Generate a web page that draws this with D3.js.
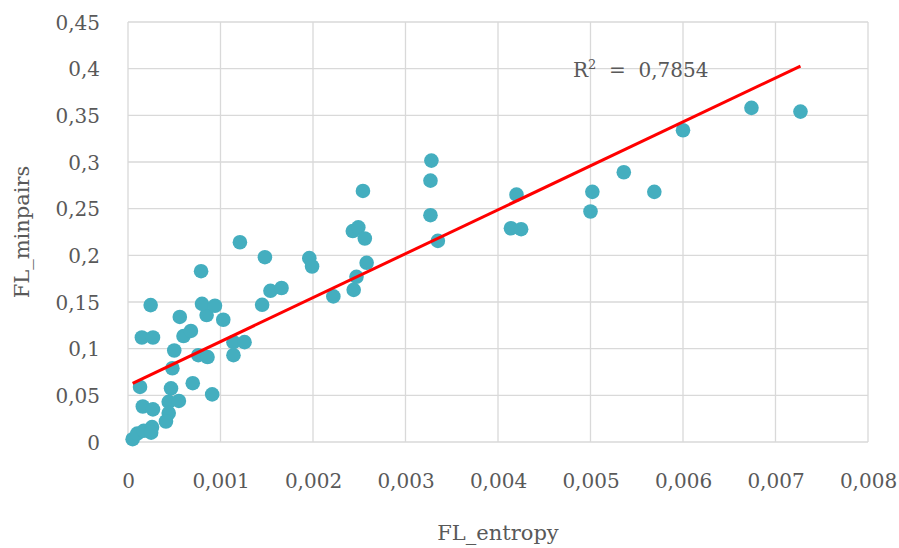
<!DOCTYPE html>
<html>
<head>
<meta charset="utf-8">
<script src="https://cdn.jsdelivr.net/npm/d3@7"></script>
<style>
  body { margin: 0; background: #fff; }
  text { font-family: "DejaVu Serif", "Noto Serif", serif; fill: #595959; }
</style>
</head>
<body>
<svg id="chart" width="899" height="548"></svg>
<script>
// FL_entropy (x) and FL_minpairs (y)
var entropy = [
  0.00005, 0.00010, 0.00017, 0.00026, 0.00025,
  0.00013, 0.00070, 0.000465, 0.00091, 0.00016,
  0.00027, 0.00044, 0.00055, 0.00044, 0.00041,
  0.00048, 0.00050, 0.00076, 0.00086, 0.00114,
  0.00114, 0.00126, 0.00015, 0.00027, 0.00060,
  0.00068, 0.00056, 0.00085, 0.00103, 0.000245,
  0.00080, 0.00094, 0.00145, 0.00079, 0.00154,
  0.00166, 0.00148, 0.00121, 0.00196, 0.00199,
  0.00222, 0.00244, 0.00247, 0.00258, 0.00243,
  0.00249, 0.00256, 0.00254, 0.00328, 0.00327,
  0.00327, 0.00335, 0.00420, 0.00414, 0.00425,
  0.00502, 0.00500, 0.00536, 0.00569, 0.00600,
  0.00674, 0.00727
]
var minpairs = [
  0.003, 0.009, 0.012, 0.016, 0.010,
  0.059, 0.063, 0.0575, 0.051, 0.038,
  0.035, 0.043, 0.044, 0.031, 0.022,
  0.079, 0.098, 0.093, 0.091, 0.093,
  0.107, 0.107, 0.112, 0.112, 0.1135,
  0.119, 0.134, 0.136, 0.131, 0.1467,
  0.148, 0.146, 0.147, 0.183, 0.162,
  0.165, 0.198, 0.214, 0.197, 0.188,
  0.156, 0.163, 0.177, 0.192, 0.226,
  0.230, 0.218, 0.269, 0.3015, 0.280,
  0.243, 0.2155, 0.265, 0.229, 0.228,
  0.268, 0.247, 0.289, 0.268, 0.334,
  0.358, 0.354
]
var xTicks = [0, 0.001, 0.002, 0.003, 0.004, 0.005, 0.006, 0.007, 0.008]
var yTicks = [0, 0.05, 0.1, 0.15, 0.2, 0.25, 0.3, 0.35, 0.4, 0.45]
// linear trend line as shown in the picture
var trendSlope = 47.08
var trendIntercept = 0.0605
var rSquared = "0,7854"

var margin = {top: 22, right: 31, bottom: 106, left: 128}
var width = 899 - margin.left - margin.right
var height = 548 - margin.top - margin.bottom

var svg = d3.select("#chart")
var g = svg.append("g")
    .attr("transform", "translate(" + margin.left + "," + margin.top + ")")

var x = d3.scaleLinear().domain([0, 0.008]).range([0, width])
var y = d3.scaleLinear().domain([0, 0.45]).range([height, 0])

var comma = function(d) {
    return String(+d.toFixed(4)).replace(".", ",")
}

// gridlines
g.selectAll(".hgrid").data(yTicks).enter()
    .append("line")
    .attr("class", "hgrid")
    .attr("x1", 0).attr("x2", width)
    .attr("y1", function(d) { return y(d) })
    .attr("y2", function(d) { return y(d) })
    .attr("stroke", "#d9d9d9").attr("stroke-width", 1.3)

g.selectAll(".vgrid").data(xTicks).enter()
    .append("line")
    .attr("class", "vgrid")
    .attr("y1", 0).attr("y2", height)
    .attr("x1", function(d) { return x(d) })
    .attr("x2", function(d) { return x(d) })
    .attr("stroke", "#d9d9d9").attr("stroke-width", 1.3)

// axes (labels only, lines come from the grid)
var xAxis = d3.axisBottom(x).tickValues(xTicks).tickFormat(comma).tickSize(0).tickPadding(32)
var yAxis = d3.axisLeft(y).tickValues(yTicks).tickFormat(comma).tickSize(0).tickPadding(28)

g.append("g").attr("class", "axis axis-x")
    .attr("transform", "translate(0," + height + ")")
    .call(xAxis)
g.append("g").attr("class", "axis axis-y")
    .call(yAxis)

g.selectAll(".axis path").remove()
g.selectAll(".axis text")
    .style("font-family", "'DejaVu Serif', serif")
    .style("font-size", "20px")
    .attr("fill", "#595959")
g.select(".axis-y").selectAll("text").attr("dy", "0.35em")

// points
g.selectAll(".datapoint")
    .data(entropy.map(function(d, i) { return {x: d, y: minpairs[i]} }))
    .enter().append("circle")
    .attr("class", "datapoint")
    .attr("cx", function(d) { return x(d.x) })
    .attr("cy", function(d) { return y(d.y) })
    .attr("r", 7.3)
    .attr("fill", "#44aebf")

// trend line over the data range
var xMinMax = d3.extent(entropy)
g.append("line")
    .attr("x1", x(xMinMax[0]))
    .attr("y1", y(trendIntercept + trendSlope * xMinMax[0]))
    .attr("x2", x(xMinMax[1]))
    .attr("y2", y(trendIntercept + trendSlope * xMinMax[1]))
    .attr("stroke", "#ff0000")
    .attr("stroke-width", 3)

// R squared label
var r2 = svg.append("text")
    .attr("x", 573).attr("y", 77)
    .attr("xml:space", "preserve")
    .style("font-size", "20px")
r2.append("tspan").text("R")
r2.append("tspan").attr("dy", -8).style("font-size", "13px").text("2")
r2.append("tspan").attr("dy", 8).text("\u00a0\u00a0=\u00a0\u00a0" + rSquared)

// axis titles
svg.append("text")
    .attr("x", margin.left + width / 2)
    .attr("y", 540)
    .attr("text-anchor", "middle")
    .style("font-size", "21px")
    .text("FL_entropy")

svg.append("text")
    .attr("transform", "translate(29," + (margin.top + height / 2) + ") rotate(-90)")
    .attr("text-anchor", "middle")
    .style("font-size", "21px")
    .text("FL_minpairs")
</script>
</body>
</html>
